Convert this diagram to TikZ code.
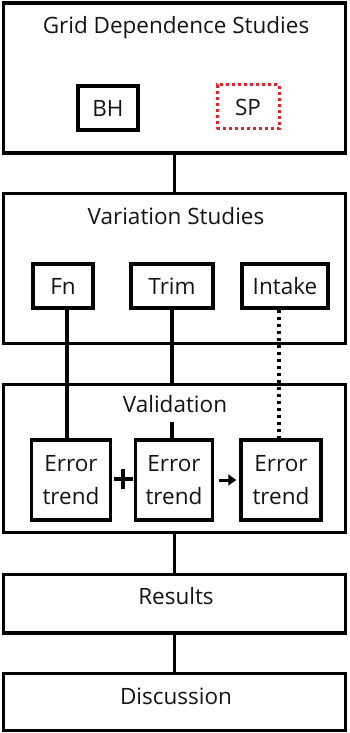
\documentclass[tikz,border=0pt]{standalone}
\usepackage{fontspec}
\setmainfont{Open Sans}
\usetikzlibrary{arrows.meta}
\definecolor{spred}{HTML}{E3242B}
\definecolor{txt}{HTML}{141414}
\begin{document}
\begin{tikzpicture}[x=1pt,y=-1pt,
  bigbox/.style={draw,line width=3.5pt,minimum width=342pt,inner sep=0pt},
  smallbox/.style={draw,line width=3.5pt,minimum height=44pt,inner sep=0pt,text=txt,font=\fontsize{22.5}{26}\selectfont},
  errbox/.style={draw,line width=3.5pt,minimum height=80pt,inner sep=0pt,align=center,text=txt,font=\fontsize{22.5}{33}\selectfont},
  lbl/.style={font=\fontsize{22.5}{26}\selectfont,inner sep=0pt,text=txt},
  conn/.style={line width=3.5pt},
  dotconn/.style={line width=3.5pt,dash pattern=on 3.5pt off 3.5pt}]
\useasboundingbox (0,0) rectangle (349,733);
% big boxes
\node[bigbox,minimum height=150pt] (g1) at (174.5,78) {};
\node[bigbox,minimum height=150pt] (v) at (174.5,268.5) {};
\node[bigbox,minimum height=148pt] (val) at (174.5,458.5) {};
\node[bigbox,minimum height=58.5pt] (res) at (174.5,603.75) {};
\node[bigbox,minimum height=57pt] (dis) at (174.5,702) {};
% titles
\node[lbl] (t1) at (176,28) {Grid Dependence Studies};
\node[lbl] (t2) at (176,216) {Variation Studies};
\node[lbl] (t4) at (176,596) {Results};
\node[lbl] (t5) at (176,696) {Discussion};
% grid boxes
\node[smallbox,minimum width=60pt] (bh) at (108,108) {BH};
\node[smallbox,draw=spred,line width=3pt,dash pattern=on 3pt off 3pt,minimum width=62pt] (sp) at (248,107) {SP};
% variation boxes
\node[smallbox,minimum width=60pt] (fn) at (63,286) {Fn};
\node[smallbox,minimum width=82pt] (trim) at (172,286) {Trim};
\node[smallbox,minimum width=86pt] (intake) at (285,286) {Intake};
% error boxes
\node[errbox,minimum width=79pt] (ea) at (71,480) {Error\\trend};
\node[errbox,minimum width=77pt] (eb) at (174,480) {Error\\trend};
\node[errbox,minimum width=80pt] (ec) at (281,480) {Error\\trend};
% connectors
\coordinate (fnx) at (67,0);
\coordinate (inx) at (279,0);
\draw[conn] (g1.south) -- (v.north);
\draw[conn] (fnx |- fn.south) -- (fnx |- ea.north);
\draw[conn] (trim.south) -- (trim.south |- eb.north);
\draw[dotconn] (inx |- intake.south) -- (inx |- ec.north);
\draw[conn] (val.south) -- (res.north);
\draw[conn] (res.south) -- (dis.north);
% validation label over the lines
\node[lbl,fill=white,minimum height=36pt,inner xsep=4pt] (t3) at (175,404) {Validation};
% plus sign
\coordinate (pc) at (123,479);
\draw[line width=4pt] ([xshift=-9.5pt]pc) -- ([xshift=9.5pt]pc);
\draw[line width=4pt] ([yshift=-10pt]pc) -- ([yshift=10pt]pc);
% arrow
\draw[line width=3pt,-{Triangle[length=8pt,width=11pt]},shorten <=5pt,shorten >=3pt] (eb.east) -- (ec.west);
\end{tikzpicture}
\end{document}
